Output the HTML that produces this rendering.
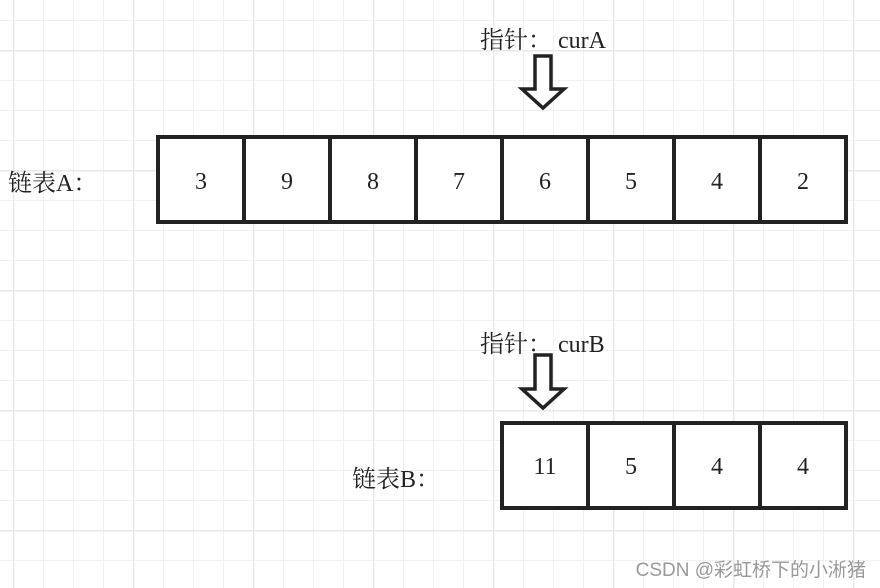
<!DOCTYPE html>
<html><head><meta charset="utf-8"><style>
html,body{margin:0;padding:0;background:#fff}
svg{display:block}
</style></head><body>
<svg width="880" height="588" xmlns="http://www.w3.org/2000/svg">
<defs>
<pattern id="mi" x="13" y="20" width="30" height="30" patternUnits="userSpaceOnUse">
<path d="M0 0V30M0 0H30" stroke="#f1f1f1" stroke-width="2" fill="none"/>
</pattern>
<pattern id="ma" x="13" y="50" width="120" height="120" patternUnits="userSpaceOnUse">
<path d="M0 0V120M0 0H120" stroke="#e9e9e9" stroke-width="3" fill="none"/>
</pattern>
</defs>
<rect width="880" height="588" fill="#fff"/>
<rect width="880" height="588" fill="url(#mi)"/>
<rect width="880" height="588" fill="url(#ma)"/>
<g font-family="Liberation Serif, 'Noto Serif CJK SC', serif" fill="#222" font-size="24">
<text x="480" y="48">指针：</text><text x="558" y="48">curA</text>
<text x="480" y="352">指针：</text><text x="558" y="352">curB</text>
<text x="8" y="191">链表A：</text>
<text x="352" y="487">链表B：</text>
</g>
<g fill="#fff" stroke="#222" stroke-width="3.5" stroke-linejoin="miter">
<path d="M535 56H551V89H564L543 108L522 89H535Z"/>
<path d="M535 355H551V389H564L543 408L522 389H535Z"/>
</g>
<g fill="#fff" stroke="#222" stroke-width="4">
<rect x="158" y="137" width="688" height="85"/>
<rect x="502" y="423" width="344" height="85"/>
<path d="M244 137V222M330 137V222M416 137V222M502 137V222M588 137V222M674 137V222M760 137V222M588 423V508M674 423V508M760 423V508"/>
</g>
<g font-family="Liberation Serif, serif" font-size="24" fill="#222" text-anchor="middle">
<text x="201" y="189">3</text><text x="287" y="189">9</text><text x="373" y="189">8</text><text x="459" y="189">7</text>
<text x="545" y="189">6</text><text x="631" y="189">5</text><text x="717" y="189">4</text><text x="803" y="189">2</text>
<text x="545" y="474">11</text><text x="631" y="474">5</text><text x="717" y="474">4</text><text x="803" y="474">4</text>
</g>
<text x="866" y="576" text-anchor="end" font-family="Liberation Sans, 'Noto Sans CJK SC', sans-serif" font-size="19" fill="#999">CSDN @彩虹桥下的小淅猪</text>
</svg>
</body></html>
